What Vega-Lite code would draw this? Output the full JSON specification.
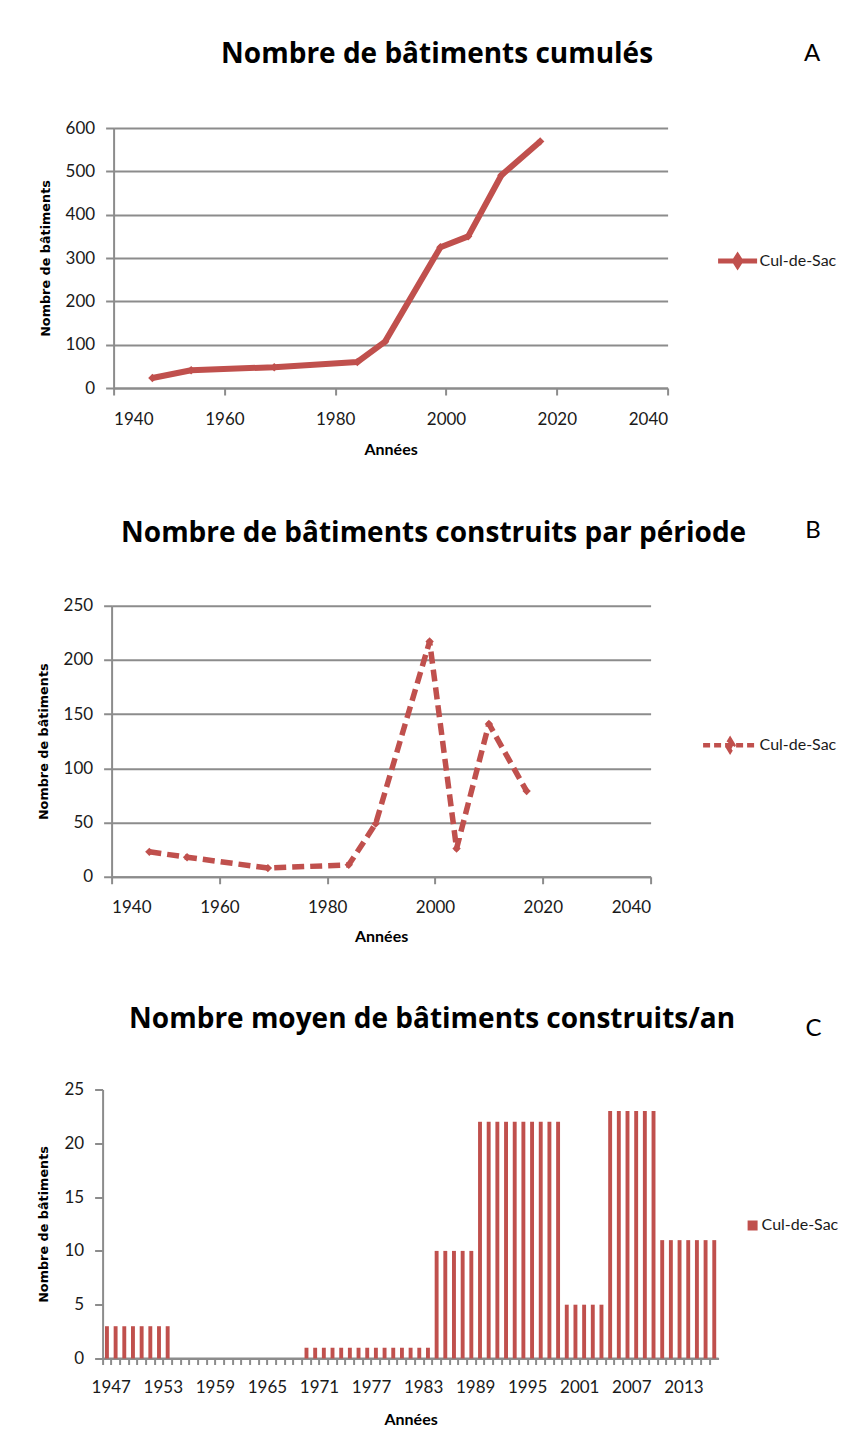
{
  "$schema": "https://vega.github.io/schema/vega-lite/v6.json",
  "background": "white",
  "padding": {"left": 36.6, "top": 41, "right": 0, "bottom": 0},
  "columns": 1,
  "align": "none",
  "spacing": 61.75,
  "resolve": {"scale": {"color": "independent"}, "legend": {"color": "independent"}},
  "config": {
    "view": {"stroke": null},
    "font": "Lato",
    "title": {"font": "Open Sans", "fontWeight": "bold", "fontSize": 28, "color": "#000000", "anchor": "middle"},
    "axis": {
      "labelFont": "Lato", "labelFontSize": 17, "labelColor": "#1a1a1a",
      "domainColor": "#8c8c8c", "domainWidth": 2,
      "tickColor": "#8c8c8c", "tickWidth": 2,
      "gridColor": "#8c8c8c", "gridWidth": 2,
      "titleFont": "Lato", "titleFontWeight": "bold", "titleFontSize": 16, "titleColor": "#000000"
    },
    "axisY": {"titleFont": "DejaVu Sans", "titleFontSize": 12.8, "titleFontWeight": "bold"},
    "legend": {"labelFont": "Lato", "labelFontSize": 16, "labelColor": "#1a1a1a"}
  },
  "concat": [
    {
      "title": {"text": "Nombre de bâtiments cumulés", "dx": 52, "offset": -28},
      "width": 565,
      "height": 260,
      "data": {"values": [
        {"annee": 1947, "batiments": 23},
        {"annee": 1954, "batiments": 41},
        {"annee": 1969, "batiments": 48},
        {"annee": 1984, "batiments": 60},
        {"annee": 1989, "batiments": 107},
        {"annee": 1999, "batiments": 325},
        {"annee": 2004, "batiments": 350},
        {"annee": 2010, "batiments": 491},
        {"annee": 2017, "batiments": 569}
      ]},
      "encoding": {
        "x": {"field": "annee", "type": "quantitative",
          "scale": {"domain": [1940, 2040], "range": [11, 565], "nice": false, "zero": false},
          "axis": {"values": [1940, 1960, 1980, 2000, 2020, 2040], "format": "d", "title": "Années", "grid": false, "tickSize": 7, "labelPadding": 16, "titlePadding": 14}},
        "color": {"datum": "Cul-de-Sac", "type": "nominal", "scale": {"range": ["#c0504d"]},
          "legend": {"title": null, "orient": "none", "legendX": 613, "legendY": 111, "symbolType": "M-1,0H1M0,-0.25L0.16,0L0,0.25L-0.16,0Z", "symbolSize": 1521, "symbolStrokeWidth": 5, "labelOffset": 0}}
      },
      "layer": [
        {
          "mark": {"type": "line", "strokeWidth": 6, "strokeJoin": "round"},
          "encoding": {
            "y": {"field": "batiments", "type": "quantitative", "scale": {"domain": [0, 600], "nice": false},
              "axis": {"orient": "left", "offset": -11, "values": [0, 100, 200, 300, 400, 500, 600], "title": "Nombre de bâtiments", "tickSize": 8, "labelPadding": 11, "titlePadding": 13}}
          }
        },
        {
          "mark": {"type": "point", "shape": "diamond", "filled": true, "size": 70, "opacity": 1},
          "encoding": {
            "y": {"field": "batiments", "type": "quantitative", "scale": {"domain": [0, 600], "nice": false},
              "axis": {"orient": "right", "title": "A", "domain": false, "ticks": false, "labels": false, "grid": false, "titleAngle": 0, "titleX": 144, "titleY": -75, "titleFont": "Lato", "titleFontWeight": "normal", "titleFontSize": 24, "titleAlign": "center", "titleBaseline": "middle"}}
          }
        }
      ],
      "resolve": {"axis": {"y": "independent"}}
    },
    {
      "title": {"text": "Nombre de bâtiments construits par période", "dx": 57, "offset": -29},
      "width": 548,
      "height": 271,
      "data": {"values": [
        {"annee": 1947, "batiments": 23},
        {"annee": 1954, "batiments": 18},
        {"annee": 1969, "batiments": 8},
        {"annee": 1984, "batiments": 11},
        {"annee": 1989, "batiments": 49},
        {"annee": 1999, "batiments": 217},
        {"annee": 2004, "batiments": 26},
        {"annee": 2010, "batiments": 141},
        {"annee": 2017, "batiments": 79}
      ]},
      "encoding": {
        "x": {"field": "annee", "type": "quantitative",
          "scale": {"domain": [1940, 2040], "range": [9, 548], "nice": false, "zero": false},
          "axis": {"values": [1940, 1960, 1980, 2000, 2020, 2040], "format": "d", "title": "Années", "grid": false, "tickSize": 7, "labelPadding": 16, "titlePadding": 13}},
        "color": {"datum": "Cul-de-Sac", "type": "nominal", "scale": {"range": ["#c0504d"]},
          "legend": {"title": null, "orient": "none", "legendX": 598, "legendY": 110, "symbolType": "M-1,0H1M0,-0.2L0.12,0L0,0.2L-0.12,0Z", "symbolSize": 2916, "symbolStrokeWidth": 4.5, "symbolDash": [7, 4], "labelOffset": 0}}
      },
      "layer": [
        {
          "mark": {"type": "line", "strokeWidth": 5.5, "strokeDash": [12, 6], "strokeJoin": "round"},
          "encoding": {
            "y": {"field": "batiments", "type": "quantitative", "scale": {"domain": [0, 250], "nice": false},
              "axis": {"orient": "left", "offset": -9, "values": [0, 50, 100, 150, 200, 250], "title": "Nombre de bâtiments", "tickSize": 8, "labelPadding": 11, "titlePadding": 13}}
          }
        },
        {
          "mark": {"type": "point", "shape": "diamond", "filled": true, "size": 70, "opacity": 1},
          "encoding": {
            "y": {"field": "batiments", "type": "quantitative", "scale": {"domain": [0, 250], "nice": false},
              "axis": {"orient": "right", "title": "B", "domain": false, "ticks": false, "labels": false, "grid": false, "titleAngle": 0, "titleX": 162, "titleY": -75, "titleFont": "Lato", "titleFontWeight": "normal", "titleFontSize": 24, "titleAlign": "center", "titleBaseline": "middle"}}
          }
        }
      ],
      "resolve": {"axis": {"y": "independent"}}
    },
    {
      "title": {"text": "Nombre moyen de bâtiments construits/an", "dx": 21.5, "offset": -17.5},
      "width": 616,
      "height": 269,
      "layer": [
        {
          "data": {"values": [{"base": 0}]},
          "mark": {"type": "rule", "color": "#8c8c8c", "strokeWidth": 2},
          "encoding": {
            "y": {"field": "base", "type": "quantitative", "scale": {"domain": [0, 25], "nice": false},
              "axis": {"orient": "right", "title": "C", "domain": false, "ticks": false, "labels": false, "grid": false, "titleAngle": 0, "titleX": 94.5, "titleY": -60.5, "titleFont": "Lato", "titleFontWeight": "normal", "titleFontSize": 24, "titleAlign": "center", "titleBaseline": "middle"}}
          }
        },
        {
          "data": {"values": [
            {"annee": 1947, "moyenne": 3}, {"annee": 1948, "moyenne": 3}, {"annee": 1949, "moyenne": 3}, {"annee": 1950, "moyenne": 3},
            {"annee": 1951, "moyenne": 3}, {"annee": 1952, "moyenne": 3}, {"annee": 1953, "moyenne": 3}, {"annee": 1954, "moyenne": 3},
            {"annee": 1955, "moyenne": 0}, {"annee": 1956, "moyenne": 0}, {"annee": 1957, "moyenne": 0}, {"annee": 1958, "moyenne": 0},
            {"annee": 1959, "moyenne": 0}, {"annee": 1960, "moyenne": 0}, {"annee": 1961, "moyenne": 0}, {"annee": 1962, "moyenne": 0},
            {"annee": 1963, "moyenne": 0}, {"annee": 1964, "moyenne": 0}, {"annee": 1965, "moyenne": 0}, {"annee": 1966, "moyenne": 0},
            {"annee": 1967, "moyenne": 0}, {"annee": 1968, "moyenne": 0}, {"annee": 1969, "moyenne": 0},
            {"annee": 1970, "moyenne": 1}, {"annee": 1971, "moyenne": 1}, {"annee": 1972, "moyenne": 1}, {"annee": 1973, "moyenne": 1},
            {"annee": 1974, "moyenne": 1}, {"annee": 1975, "moyenne": 1}, {"annee": 1976, "moyenne": 1}, {"annee": 1977, "moyenne": 1},
            {"annee": 1978, "moyenne": 1}, {"annee": 1979, "moyenne": 1}, {"annee": 1980, "moyenne": 1}, {"annee": 1981, "moyenne": 1},
            {"annee": 1982, "moyenne": 1}, {"annee": 1983, "moyenne": 1}, {"annee": 1984, "moyenne": 1},
            {"annee": 1985, "moyenne": 10}, {"annee": 1986, "moyenne": 10}, {"annee": 1987, "moyenne": 10}, {"annee": 1988, "moyenne": 10}, {"annee": 1989, "moyenne": 10},
            {"annee": 1990, "moyenne": 22}, {"annee": 1991, "moyenne": 22}, {"annee": 1992, "moyenne": 22}, {"annee": 1993, "moyenne": 22}, {"annee": 1994, "moyenne": 22},
            {"annee": 1995, "moyenne": 22}, {"annee": 1996, "moyenne": 22}, {"annee": 1997, "moyenne": 22}, {"annee": 1998, "moyenne": 22}, {"annee": 1999, "moyenne": 22},
            {"annee": 2000, "moyenne": 5}, {"annee": 2001, "moyenne": 5}, {"annee": 2002, "moyenne": 5}, {"annee": 2003, "moyenne": 5}, {"annee": 2004, "moyenne": 5},
            {"annee": 2005, "moyenne": 23}, {"annee": 2006, "moyenne": 23}, {"annee": 2007, "moyenne": 23}, {"annee": 2008, "moyenne": 23}, {"annee": 2009, "moyenne": 23}, {"annee": 2010, "moyenne": 23},
            {"annee": 2011, "moyenne": 11}, {"annee": 2012, "moyenne": 11}, {"annee": 2013, "moyenne": 11}, {"annee": 2014, "moyenne": 11},
            {"annee": 2015, "moyenne": 11}, {"annee": 2016, "moyenne": 11}, {"annee": 2017, "moyenne": 11}
          ]},
          "mark": {"type": "bar"},
          "encoding": {
            "x": {"field": "annee", "type": "ordinal", "scale": {"paddingInner": 0.55, "paddingOuter": 0.275},
              "axis": {"title": "Années", "labelAngle": 0, "bandPosition": -0.611, "labelOffset": 4.33, "labelOverlap": false, "labelExpr": "(datum.value - 1947) % 6 == 0 ? datum.label : ''", "tickSize": 6, "labelPadding": 15, "titlePadding": 16}},
            "y": {"field": "moyenne", "type": "quantitative", "scale": {"domain": [0, 25], "nice": false},
              "axis": {"orient": "left", "values": [0, 5, 10, 15, 20, 25], "title": "Nombre de bâtiments", "tickSize": 8, "labelPadding": 11, "titlePadding": 13}},
            "color": {"datum": "Cul-de-Sac", "type": "nominal", "scale": {"range": ["#c0504d"]},
              "legend": {"title": null, "orient": "none", "legendX": 642, "legendY": 128, "symbolType": "square", "symbolSize": 100, "labelOffset": 1}}
          }
        }
      ],
      "resolve": {"axis": {"y": "independent"}}
    }
  ]
}
